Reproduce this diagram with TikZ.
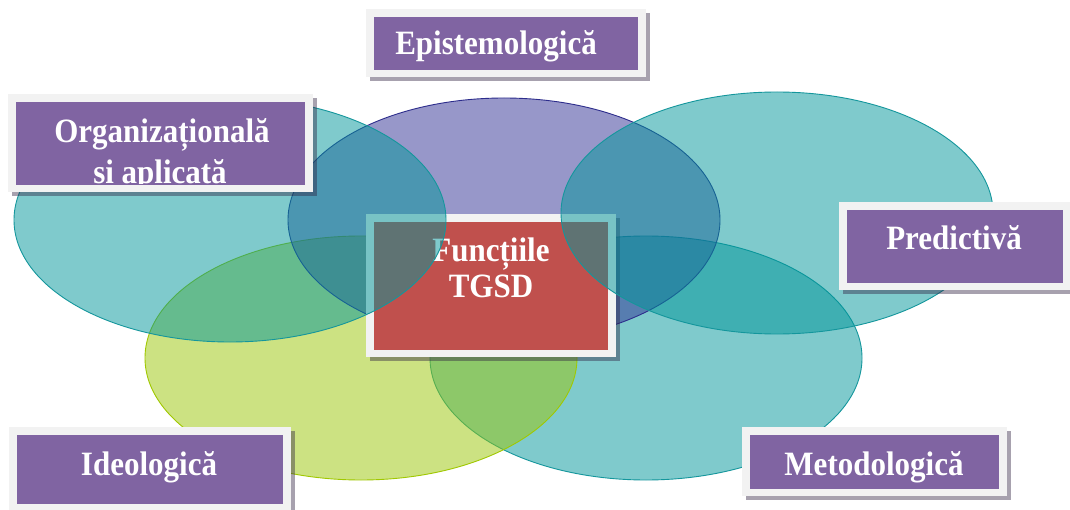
\documentclass[tikz,border=0pt]{standalone}
\usepackage{fontspec}
\setmainfont{Liberation Serif}
\definecolor{framegray}{RGB}{242,242,242}
\definecolor{boxpurple}{RGB}{128,100,162}
\definecolor{boxred}{RGB}{192,80,77}
\definecolor{shadowc}{RGB}{46,32,64}
\definecolor{tealfill}{RGB}{0,150,154}
\definecolor{tealline}{RGB}{20,150,156}
\definecolor{lavfill}{RGB}{49,49,149}
\definecolor{lavline}{RGB}{45,45,140}
\definecolor{limefill}{RGB}{155,199,7}
\definecolor{limeline}{RGB}{160,200,0}
\newcommand\lblfont{\bfseries\fontsize{31}{36}\selectfont}
% slightly tall lettering
\newcommand\tall[1]{\scalebox{1}[1.1]{#1}}
% shadow, light frame and coloured panel of a label box: {x1}{y1}{x2}{y2}{panel colour}
\newcommand\lblbox[5]{%
  \fill[shade] ({#1+4},{#2+4}) rectangle ({#3+4},{#4+4});
  \fill[framegray] (#1,#2) rectangle (#3,#4);
  \fill[#5] ({#1+8},{#2+8}) rectangle ({#3-8},{#4-7});
}
\begin{document}
\begin{tikzpicture}[x=1pt,y=-1pt,
  shade/.style={fill=shadowc,fill opacity=0.42},
  txt/.style={text=white,font=\lblfont,inner sep=0pt,anchor=base},
  tealset/.style={fill=tealfill,fill opacity=0.5,draw=tealline,line width=0.9pt},
  lavset/.style={fill=lavfill,fill opacity=0.5,draw=lavline,line width=0.9pt},
  limeset/.style={fill=limefill,fill opacity=0.5,draw=limeline,line width=0.9pt}]
\useasboundingbox (0,0) rectangle (1070,510);
\fill[white] (0,0) rectangle (1070,510);

% lower and upper-middle sets
\draw[tealset] (646,358) ellipse [x radius=216, y radius=122];
\draw[limeset] (361,358) ellipse [x radius=216, y radius=122];
\draw[lavset] (504,220) ellipse [x radius=216, y radius=122];

% central box
\lblbox{366}{214}{616}{357}{boxred}
\node[txt] (fn) at (491,262) {\tall{Funcțiile}};
\node[txt] (tg) at (491,298) {\tall{TGSD}};

% upper left and right sets, over the central box
\draw[tealset] (230,220) ellipse [x radius=216, y radius=122];
\draw[tealset] (777,213) ellipse [x radius=216, y radius=121];

% label boxes
\lblbox{366}{9}{646}{77}{boxpurple}
\node[txt] (epi) at (496,55) {\tall{Epistemologică}};

\lblbox{8}{94}{313}{192}{boxpurple}
\begin{scope}
  \clip (16,102) rectangle (305,184);
  \node[txt] (org) at (162,143) {\tall{Organizațională}};
  \node[txt] (apl) at (160,184) {\tall{si aplicată}};
\end{scope}

\lblbox{839}{202}{1071}{290}{boxpurple}
\node[txt] (pre) at (954,250) {\tall{Predictivă}};

\lblbox{9}{427}{291}{511}{boxpurple}
\node[txt] (ide) at (149,475) {\tall{Ideologică}};

\lblbox{742}{427}{1007}{496}{boxpurple}
\node[txt] (met) at (874,475) {\tall{Metodologică}};
\end{tikzpicture}
\end{document}
